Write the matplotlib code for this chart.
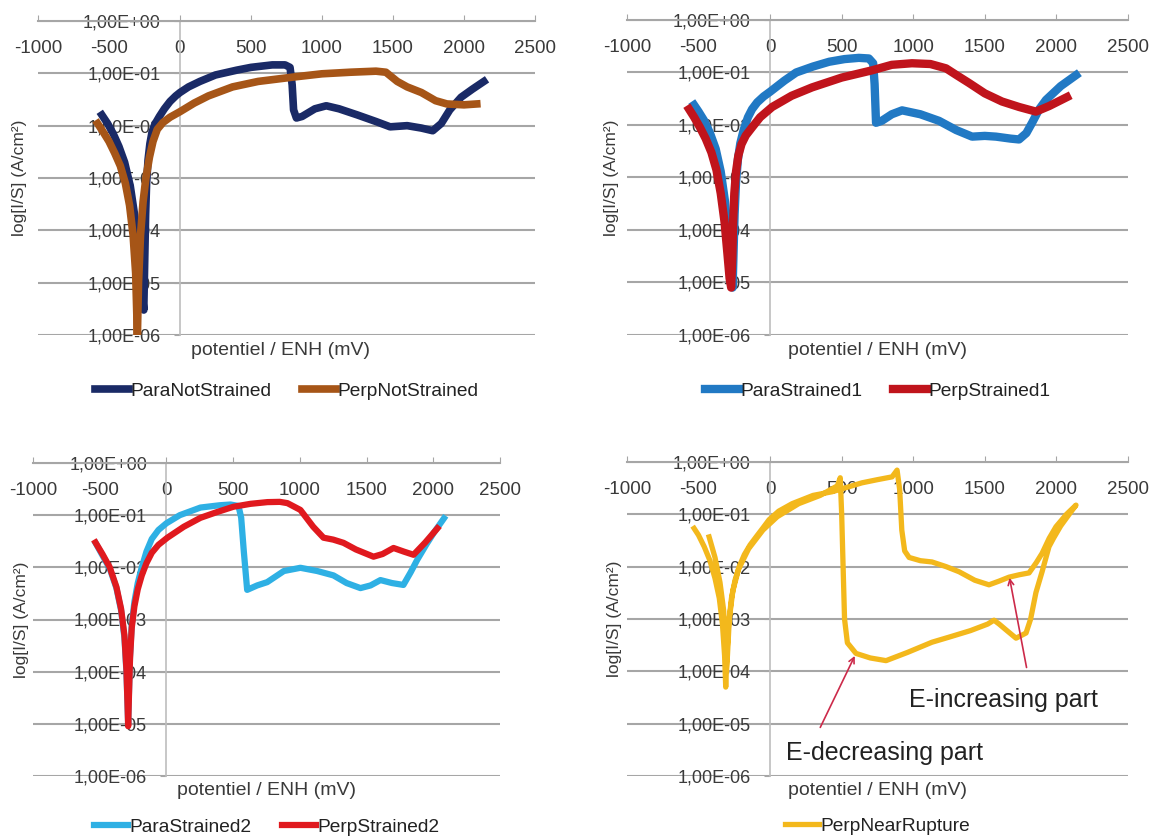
import matplotlib
matplotlib.use("Agg")
import matplotlib.pyplot as plt
from matplotlib.ticker import NullLocator

plt.rcParams['font.family'] = ['Liberation Sans', 'DejaVu Sans']
plt.rcParams['axes.unicode_minus'] = False

xticks = [-1000, -500, 0, 500, 1000, 1500, 2000, 2500]
yticks = [1e0, 1e-1, 1e-2, 1e-3, 1e-4, 1e-5, 1e-6]
ytick_labels = ['1,00E+00', '1,00E-01', '1,00E-02', '1,00E-03', '1,00E-04', '1,00E-05', '1,00E-06']
xlabel = 'potentiel / ENH (mV)'
ylabel = 'log[I/S] (A/cm²)'

# --- ParaNotStrained / PerpNotStrained
para_ns_E = [-550, -510, -470, -430, -390, -350, -320, -295, -275, -255, -248, -242, -235, -225, -212,
             -197, -178, -145, -110, -70, -30, 0, 60, 140, 250, 400, 500, 650, 740, 775, 790, 800, 820, 860,
             950, 1030, 1120, 1250, 1380, 1480, 1600, 1700, 1780, 1840, 1900, 1980, 2060, 2140]
para_ns_I = [1.6e-2, 1.1e-2, 7e-3, 4e-3, 2e-3, 7e-4, 2e-4, 5e-5, 1.2e-5, 3e-6, 3e-5, 2e-4, 8e-4, 2.2e-3,
             4.5e-3, 7.5e-3, 1.05e-2, 1.5e-2, 2.1e-2, 2.9e-2, 3.7e-2, 4.3e-2, 5.5e-2, 7e-2, 9.3e-2, 1.15e-1,
             1.3e-1, 1.45e-1, 1.45e-1, 1.3e-1, 6e-2, 2e-2, 1.4e-2, 1.5e-2, 2.1e-2, 2.4e-2, 2.1e-2, 1.6e-2,
             1.2e-2, 9.5e-3, 1e-2, 9e-3, 8e-3, 1.1e-2, 2e-2, 3.5e-2, 5e-2, 7e-2]
perp_ns_E = [-580, -540, -500, -460, -420, -385, -355, -330, -312, -300, -292, -278, -260, -240, -215,
             -190, -160, -120, -70, 0, 100, 200, 370, 550, 800, 1000, 1200, 1380, 1450, 1530, 1600, 1700,
             1800, 1880, 2000, 2090]
perp_ns_I = [1.1e-2, 7.5e-3, 5e-3, 3e-3, 1.7e-3, 8e-4, 3e-4, 8e-5, 1.5e-5, 1e-6, 1e-5, 8e-5, 3.5e-4, 1e-3,
             2.5e-3, 5e-3, 8.5e-3, 1.15e-2, 1.45e-2, 1.85e-2, 2.7e-2, 3.7e-2, 5.5e-2, 7e-2, 8.5e-2, 9.8e-2,
             1.05e-1, 1.1e-1, 1.05e-1, 7e-2, 5.5e-2, 4.3e-2, 3e-2, 2.6e-2, 2.5e-2, 2.6e-2]

# --- ParaStrained1 / PerpStrained1
para_s1_E = [-531, -500, -460, -420, -380, -345, -315, -292, -275, -262, -255, -248, -238, -225, -208,
             -185, -155, -126, -90, -45, 0, 100, 182, 300, 412, 520, 620, 690, 720, 730, 740, 780, 850, 922,
             1050, 1180, 1300, 1411, 1500, 1578, 1680, 1739, 1790, 1830, 1880, 1927, 2030, 2137]
para_s1_I = [2.4e-2, 1.8e-2, 1.2e-2, 7e-3, 3.5e-3, 1.3e-3, 3.5e-4, 7e-5, 1.8e-5, 8e-6, 4e-5, 2e-4, 8e-4,
             2.2e-3, 4.5e-3, 8e-3, 1.4e-2, 2e-2, 2.7e-2, 3.5e-2, 4.3e-2, 7e-2, 1e-1, 1.3e-1, 1.6e-1, 1.8e-1,
             1.9e-1, 1.85e-1, 1.5e-1, 6e-2, 1.1e-2, 1.2e-2, 1.6e-2, 1.9e-2, 1.6e-2, 1.2e-2, 8e-3, 6e-3,
             6.2e-3, 6e-3, 5.5e-3, 5.3e-3, 7e-3, 1.1e-2, 2e-2, 3e-2, 5.5e-2, 8.9e-2]
perp_s1_E = [-566, -530, -490, -450, -410, -375, -345, -318, -298, -283, -272, -264, -258, -250, -238,
             -222, -200, -170, -126, -70, 14, 150, 293, 500, 712, 850, 991, 1120, 1229, 1300, 1390, 1500,
             1620, 1740, 1857, 1950, 2074]
perp_s1_I = [2e-2, 1.4e-2, 9e-3, 5.5e-3, 3e-3, 1.4e-3, 5e-4, 1.4e-4, 3.5e-5, 1.2e-5, 8e-6, 3e-5, 1.5e-4,
             5e-4, 1.3e-3, 2.6e-3, 4.3e-3, 6.3e-3, 9e-3, 1.4e-2, 2.2e-2, 3.6e-2, 5.2e-2, 8e-2, 1.1e-1,
             1.4e-1, 1.5e-1, 1.45e-1, 1.2e-1, 9e-2, 6.3e-2, 4e-2, 2.8e-2, 2.2e-2, 1.8e-2, 2.3e-2, 3.4e-2]

# --- ParaStrained2 / PerpStrained2
para_s2_E = [-530, -480, -425, -375, -340, -315, -300, -292, -287, -281, -273, -260, -240, -215, -185,
             -150, -110, -60, 0, 100, 255, 400, 480, 540, 560, 580, 605, 680, 755, 880, 1004, 1130, 1252,
             1350, 1454, 1530, 1604, 1690, 1776, 1830, 1880, 1950, 2004, 2080]
para_s2_I = [2.9e-2, 1.7e-2, 9.5e-3, 4e-3, 1.5e-3, 4.5e-4, 1e-4, 2.5e-5, 1e-5, 4e-5, 2e-4, 8e-4, 2.2e-3,
             5e-3, 1e-2, 2e-2, 3.5e-2, 5.2e-2, 7e-2, 1e-1, 1.4e-1, 1.55e-1, 1.6e-1, 1.5e-1, 9e-2, 2e-2,
             3.7e-3, 4.5e-3, 5.2e-3, 8.5e-3, 9.8e-3, 8.5e-3, 7e-3, 5e-3, 4e-3, 4.5e-3, 5.7e-3, 5e-3, 4.6e-3,
             8e-3, 1.4e-2, 2.8e-2, 4.6e-2, 8.7e-2]
perp_s2_E = [-532, -480, -425, -375, -340, -315, -300, -292, -287, -281, -273, -260, -240, -215, -185,
             -150, -110, -60, 7, 130, 255, 380, 502, 630, 757, 850, 907, 1004, 1100, 1177, 1250, 1327, 1420,
             1552, 1620, 1702, 1780, 1852, 1940, 2031]
perp_s2_I = [3e-2, 1.8e-2, 1e-2, 4.2e-3, 1.6e-3, 5e-4, 1.1e-4, 2.5e-5, 9e-6, 3.5e-5, 1.8e-4, 7e-4, 1.8e-3,
             3.8e-3, 7e-3, 1.2e-2, 1.9e-2, 2.7e-2, 3.7e-2, 6e-2, 8.9e-2, 1.15e-1, 1.45e-1, 1.65e-1, 1.78e-1,
             1.8e-1, 1.7e-1, 1.26e-1, 6e-2, 3.7e-2, 3.4e-2, 2.95e-2, 2.2e-2, 1.6e-2, 1.8e-2, 2.35e-2, 2e-2,
             1.74e-2, 3e-2, 5.6e-2]

# --- PerpNearRupture (forward then reverse scan)
rupt_E = [-531, -500, -460, -420, -385, -355, -333, -318, -310, -302, -290, -270, -245, -216, -180, -140,
          -98, -50, -7, 60, 154, 300, 433, 540, 642, 750, 852, 887, 905, 920, 940, 971, 1050, 1131, 1230,
          1320, 1430, 1529, 1600, 1669, 1740, 1809, 1860, 1900, 1950, 1997, 2070, 2137,
          2100, 2030, 1980, 1948, 1900, 1857, 1820, 1788, 1718, 1648, 1600, 1564, 1520, 1400, 1250, 1131,
          960, 810, 700, 600, 540, 520, 510, 500, 490, 470, 350, 200, 50, -50, -150, -220, -260, -285, -298,
          -305, -312, -325, -350, -385, -426]
rupt_I = [5.4e-2, 4e-2, 2.4e-2, 1.3e-2, 6e-3, 2.5e-3, 8e-4, 2e-4, 5e-5, 2e-4, 8e-4, 2.5e-3, 5.5e-3, 1e-2,
          1.7e-2, 2.6e-2, 3.7e-2, 5.5e-2, 7.9e-2, 1.15e-1, 1.6e-1, 2.3e-1, 2.7e-1, 3.3e-1, 4e-1, 4.6e-1,
          5.2e-1, 7e-1, 3e-1, 5e-2, 2e-2, 1.5e-2, 1.3e-2, 1.23e-2, 1e-2, 8e-3, 5.5e-3, 4.5e-3, 5.3e-3,
          6.3e-3, 7e-3, 7.6e-3, 1.2e-2, 1.8e-2, 3.5e-2, 5.8e-2, 1e-1, 1.5e-1,
          1.1e-1, 6e-2, 3.5e-2, 2.4e-2, 8e-3, 3.2e-3, 1e-3, 5.4e-4, 4.3e-4, 6.2e-4, 8e-4, 9.5e-4, 8e-4, 6e-4,
          4.5e-4, 3.6e-4, 2.3e-4, 1.6e-4, 1.8e-4, 2.2e-4, 3.5e-4, 1e-3, 1e-2, 1e-1, 5e-1, 3.5e-1, 2.3e-1,
          1.6e-1, 9e-2, 5e-2, 2.2e-2, 9e-3, 3.5e-3, 1e-3, 2e-4, 1e-4, 4e-4, 1.5e-3, 5e-3, 1.5e-2, 3.7e-2]

fig = plt.figure(figsize=(11.51, 8.4), dpi=100)
fig.patch.set_facecolor('white')


def style(ax, leg_y, xl_x, xl_y, yl_x):
    ax.set_yscale('log')
    ax.set_xlim(-1000, 2500)
    ax.set_ylim(1e-6, 1e0)
    ax.set_xticks(xticks)
    ax.set_yticks(yticks)
    ax.set_yticklabels(ytick_labels)
    ax.yaxis.set_minor_locator(NullLocator())
    for s in ['right', 'bottom']:
        ax.spines[s].set_visible(False)
    ax.spines['top'].set_color('#a6a6a6')
    ax.spines['top'].set_linewidth(1.5)
    ax.spines['left'].set_position(('data', 0))
    ax.spines['left'].set_color('#bdbdbd')
    ax.spines['left'].set_linewidth(1.2)
    ax.grid(axis='y', color='#a6a6a6', linewidth=1.5)
    ax.tick_params(axis='x', top=True, bottom=False, labeltop=True, labelbottom=False,
                   direction='out', length=4, pad=-30, color='#a6a6a6', labelsize=13.5, labelcolor='#3a3a3a')
    ax.tick_params(axis='y', direction='out', length=4, pad=10, color='#a6a6a6',
                   labelsize=13, labelcolor='#3a3a3a')
    ax.set_xlabel(xlabel, fontsize=14, color='#3a3a3a')
    ax.xaxis.set_label_position('bottom')
    ax.xaxis.set_label_coords(xl_x, xl_y)
    ax.set_ylabel(ylabel, fontsize=12.5, color='#3a3a3a')
    ax.yaxis.set_label_coords(yl_x, 0.5)
    ax.legend(loc='center', bbox_to_anchor=(0.5, leg_y), ncol=2, frameon=False, fontsize=13.8,
              handlelength=1.8, handletextpad=0.05, columnspacing=1.6, labelcolor='#222222')


ax1 = fig.add_axes([0.0330, 0.6012, 0.4318, 0.3738])
ax1.plot(para_ns_E, para_ns_I, color='#1a2a66', lw=5.5, label='ParaNotStrained', zorder=3)
ax1.plot(perp_ns_E, perp_ns_I, color='#a65517', lw=5.5, label='PerpNotStrained', zorder=3)
style(ax1, -0.178, 0.487, -0.022, -0.022)

ax2 = fig.add_axes([0.5447, 0.6012, 0.4353, 0.375])
ax2.plot(para_s1_E, para_s1_I, color='#2179c4', lw=6, label='ParaStrained1', zorder=3)
ax2.plot(perp_s1_E, perp_s1_I, color='#c0141c', lw=6, label='PerpStrained1', zorder=3)
style(ax2, -0.178, 0.5, -0.022, -0.016)

ax3 = fig.add_axes([0.0287, 0.0762, 0.4057, 0.3726])
ax3.plot(para_s2_E, para_s2_I, color='#2eb0e4', lw=4.5, label='ParaStrained2', zorder=3)
ax3.plot(perp_s2_E, perp_s2_I, color='#e0191e', lw=4.5, label='PerpStrained2', zorder=3)
style(ax3, -0.163, 0.5, -0.02, -0.009)

ax4 = fig.add_axes([0.5447, 0.0762, 0.4353, 0.3738])
ax4.plot(rupt_E, rupt_I, color='#f3b81c', lw=3.8, label='PerpNearRupture', zorder=3)
style(ax4, -0.16, 0.5, -0.02, -0.01)
ax4.text(971, 10 ** -4.55, 'E-increasing part', fontsize=18, color='#222222', ha='left', va='center')
ax4.text(112, 10 ** -5.56, 'E-decreasing part', fontsize=18, color='#222222', ha='left', va='center')
ax4.annotate('', xy=(600, 2.2e-4), xytext=(342, 7.6e-6),
             arrowprops=dict(arrowstyle='->', color='#cc2a4a', lw=1.2), zorder=4)
ax4.annotate('', xy=(1669, 6.9e-3), xytext=(1795, 1.05e-4),
             arrowprops=dict(arrowstyle='->', color='#cc2a4a', lw=1.2), zorder=4)

fig.savefig('out.png', dpi=100)
